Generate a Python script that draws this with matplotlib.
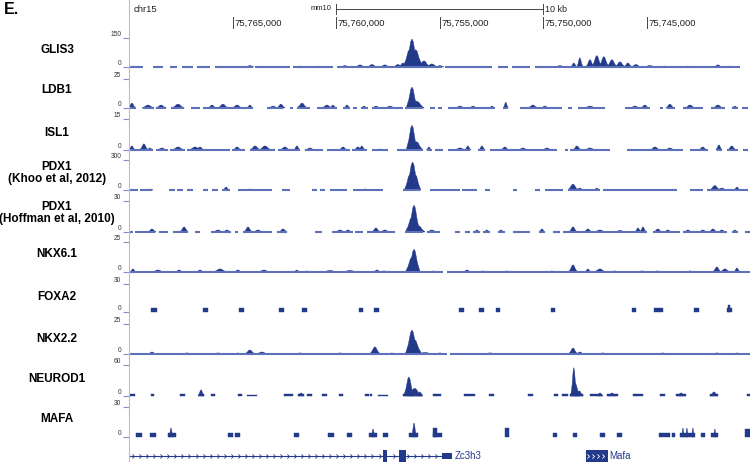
import numpy as np
import matplotlib
matplotlib.use('Agg')
import matplotlib.pyplot as plt
from matplotlib.lines import Line2D

plt.rcParams['font.family'] = ['Liberation Sans', 'DejaVu Sans']

# genome positions are in kb on chr15 (mm10); plotted right-to-left
track_names = ['GLIS3', 'LDB1', 'ISL1', 'PDX1\n(Khoo et al, 2012)',
               'PDX1\n(Hoffman et al, 2010)', 'NKX6.1', 'FOXA2', 'NKX2.2',
               'NEUROD1', 'MAFA']
track_max = [150, 25, 15, 300, 30, 25, 30, 25, 60, 30]
tick_kb = [75765, 75760, 75755, 75750, 75745, 75740]
scale_bar_kb = (75760, 75750)

# covered regions (start, end), peaks (center, value, half width), blocks (start, end, value)
glis3_cover = [(75770.00, 75769.32), (75768.84, 75768.36), (75768.02, 75767.68), (75767.44, 75766.91),
               (75766.72, 75766.09), (75765.85, 75764.01), (75763.91, 75762.22), (75762.08, 75760.15),
               (75759.95, 75754.88), (75754.74, 75752.47), (75752.18, 75751.69), (75751.50, 75750.63),
               (75750.39, 75740.49)]
glis3_peaks = [(75769.76, 5, 0.15), (75764.16, 8, 0.2), (75763.58, 5, 0.15), (75761.74, 5, 0.15),
               (75760.87, 5, 0.15), (75759.57, 8, 0.2), (75758.84, 11, 0.25), (75758.26, 13, 0.25),
               (75757.64, 11, 0.25), (75757.01, 13, 0.25), (75756.77, 21, 0.2),
               (75756.33, 145, 0.32), (75756.45, 90, 0.32), (75756.15, 90, 0.35),
               (75756.04, 45, 0.3), (75755.75, 32, 0.3), (75755.37, 16, 0.3), (75754.98, 8, 0.2),
               (75749.18, 8, 0.2), (75748.51, 21, 0.15), (75748.22, 48, 0.15), (75747.73, 38, 0.2),
               (75747.40, 59, 0.25), (75747.06, 54, 0.25), (75746.67, 38, 0.25), (75746.28, 27, 0.25),
               (75745.90, 21, 0.2), (75745.51, 13, 0.25), (75744.84, 8, 0.3), (75744.11, 5, 0.25),
               (75743.00, 5, 0.2), (75741.55, 11, 0.2), (75740.97, 5, 0.2)]

ldb1_cover = [(75770.00, 75769.66), (75769.32, 75768.79), (75768.70, 75768.21), (75767.97, 75767.34),
              (75767.01, 75766.57), (75766.43, 75764.01), (75763.33, 75762.56), (75762.22, 75762.08),
              (75761.89, 75761.26), (75760.92, 75759.95), (75759.66, 75759.33), (75759.18, 75758.99),
              (75758.79, 75758.46), (75758.26, 75756.77), (75756.67, 75755.80), (75755.46, 75755.22),
              (75755.08, 75754.88), (75754.59, 75752.32), (75751.94, 75751.69), (75751.11, 75749.09),
              (75748.80, 75748.60), (75748.31, 75747.01), (75746.04, 75744.84), (75744.35, 75744.21),
              (75744.01, 75743.63), (75743.24, 75742.28), (75741.89, 75741.21), (75740.88, 75740.59),
              (75740.39, 75740.10)]
ldb1_peaks = [(75769.86, 4.3, 0.18), (75769.08, 2.6, 0.3), (75768.45, 2.6, 0.25), (75767.63, 3.4, 0.3),
              (75765.99, 2.6, 0.2), (75765.46, 3.4, 0.25), (75764.78, 2.6, 0.25), (75764.16, 2.6, 0.15),
              (75763.04, 1.7, 0.25), (75762.66, 3.4, 0.2), (75761.64, 4.3, 0.25), (75760.44, 2.6, 0.25),
              (75760.15, 2.6, 0.15), (75759.47, 2.6, 0.15), (75758.65, 1.7, 0.15), (75758.07, 1.7, 0.2),
              (75757.39, 1.7, 0.25), (75756.33, 18, 0.28), (75756.10, 6, 0.3), (75756.04, 5, 0.3),
              (75754.01, 1.7, 0.25), (75753.38, 1.7, 0.2), (75752.47, 1.7, 0.15), (75751.80, 5, 0.12),
              (75750.49, 2.6, 0.25), (75749.91, 1.7, 0.2), (75747.73, 1.7, 0.3), (75745.56, 1.7, 0.25),
              (75745.08, 2.6, 0.2), (75743.87, 3.4, 0.2), (75742.90, 2.6, 0.25), (75741.55, 2.6, 0.25),
              (75740.73, 1.7, 0.15)]

isl1_cover = [(75770.00, 75768.84), (75768.70, 75768.12), (75768.02, 75767.30), (75767.20, 75765.12),
              (75765.03, 75764.40), (75764.16, 75762.95), (75762.80, 75761.74), (75761.50, 75760.63),
              (75760.44, 75759.33), (75759.23, 75758.50), (75758.26, 75757.49), (75757.06, 75755.80),
              (75755.61, 75755.37), (75755.22, 75754.83), (75754.59, 75753.53), (75753.14, 75752.81),
              (75752.56, 75749.33), (75748.94, 75748.80), (75748.70, 75746.77), (75745.95, 75743.24),
              (75742.90, 75742.03), (75741.60, 75741.36), (75741.12, 75740.59), (75740.34, 75740.10)]
isl1_peaks = [(75769.86, 2, 0.15), (75769.28, 3, 0.2), (75768.99, 1, 0.15), (75768.41, 1, 0.25),
              (75767.63, 1.5, 0.3), (75766.81, 1.5, 0.3), (75766.57, 1.5, 0.2), (75764.78, 1.5, 0.2),
              (75763.91, 2, 0.25), (75763.43, 2, 0.3), (75762.47, 1.5, 0.25), (75761.89, 2, 0.15),
              (75761.26, 1, 0.25), (75759.66, 1.5, 0.2), (75758.94, 1.5, 0.2), (75758.75, 2, 0.15),
              (75757.88, 0.5, 0.2), (75756.33, 12, 0.28), (75756.10, 4, 0.3), (75756.04, 1.5, 0.25),
              (75755.51, 1.5, 0.12), (75754.01, 1, 0.3), (75753.63, 2, 0.15), (75752.95, 2, 0.15),
              (75751.84, 1.5, 0.2), (75750.97, 1, 0.25), (75749.81, 1, 0.25), (75748.36, 2, 0.2),
              (75747.73, 1, 0.3), (75744.59, 1.5, 0.25), (75743.87, 1, 0.25), (75742.28, 1.5, 0.2),
              (75741.50, 2.5, 0.15), (75740.88, 2, 0.2)]

khoo_cover = [(75769.95, 75769.57), (75769.47, 75768.89), (75768.07, 75767.78), (75767.68, 75767.39),
              (75767.20, 75766.91), (75766.43, 75766.18), (75765.99, 75765.70), (75765.51, 75765.12),
              (75764.74, 75763.09), (75762.61, 75762.22), (75761.16, 75760.92), (75760.77, 75760.53),
              (75760.29, 75759.47), (75759.18, 75757.73), (75756.77, 75755.94), (75755.46, 75754.01),
              (75753.92, 75753.19), (75752.81, 75752.56), (75751.45, 75751.26), (75750.39, 75750.15),
              (75749.91, 75749.04), (75748.80, 75747.25), (75747.11, 75743.53), (75742.90, 75742.28),
              (75742.08, 75740.10)]
khoo_peaks = [(75768.99, 10, 0.15), (75765.31, 30, 0.15), (75764.16, 10, 0.25), (75758.60, 10, 0.25),
              (75756.30, 280, 0.32), (75756.45, 150, 0.25), (75756.15, 150, 0.25),
              (75748.55, 60, 0.25), (75748.22, 20, 0.2), (75747.40, 20, 0.15),
              (75741.70, 45, 0.25), (75741.36, 20, 0.25), (75740.63, 30, 0.15)]

hoffman_cover = [(75770.00, 75769.81), (75769.71, 75768.74), (75768.55, 75768.12), (75767.87, 75767.15),
                 (75766.81, 75766.57), (75766.04, 75765.07), (75764.88, 75764.74), (75764.49, 75763.09),
                 (75762.85, 75762.37), (75761.02, 75760.68), (75760.20, 75759.18), (75759.08, 75758.70),
                 (75758.50, 75757.15), (75756.67, 75755.80), (75755.61, 75754.98), (75754.25, 75754.01),
                 (75753.77, 75753.53), (75753.38, 75753.05), (75752.90, 75752.56), (75752.18, 75751.84),
                 (75751.45, 75750.63), (75750.20, 75749.91), (75749.52, 75749.18), (75749.04, 75744.98),
                 (75744.69, 75743.39), (75743.24, 75741.12), (75740.88, 75740.59), (75740.25, 75740.00)]
hoffman_peaks = [(75768.89, 3, 0.2), (75767.34, 5, 0.2), (75765.70, 2, 0.25), (75765.27, 2, 0.2),
                 (75764.25, 5, 0.2), (75763.77, 2, 0.25), (75762.56, 3, 0.2), (75759.81, 2, 0.25),
                 (75759.42, 2, 0.2), (75758.07, 4, 0.2), (75757.64, 2, 0.25),
                 (75756.23, 26, 0.3), (75756.35, 14, 0.3), (75756.00, 6, 0.3),
                 (75755.37, 2, 0.25), (75753.19, 2, 0.15), (75752.71, 2, 0.15), (75752.03, 2, 0.15),
                 (75750.05, 3, 0.15), (75748.55, 5, 0.2), (75747.83, 3, 0.2), (75747.25, 2, 0.3),
                 (75746.28, 1.5, 0.3), (75745.41, 4, 0.15), (75745.17, 5, 0.15), (75744.45, 3, 0.2),
                 (75743.97, 2, 0.2), (75743.00, 2, 0.2), (75742.28, 2, 0.2), (75741.79, 3, 0.2),
                 (75741.36, 2, 0.2), (75740.73, 2, 0.15)]

nkx61_cover = [(75770.00, 75754.83), (75754.64, 75740.00)]
nkx61_peaks = [(75769.81, 2.6, 0.15), (75768.60, 1.7, 0.3), (75767.58, 1.7, 0.2), (75766.57, 1.7, 0.2),
               (75765.60, 2.6, 0.35), (75764.74, 1.7, 0.2), (75763.48, 1.7, 0.3), (75761.89, 1.7, 0.15),
               (75761.40, 0.9, 0.15), (75760.29, 1.3, 0.4), (75759.33, 1.3, 0.4), (75758.02, 1.7, 0.2),
               (75757.68, 0.9, 0.25), (75756.23, 19, 0.3), (75756.35, 12, 0.3), (75755.32, 0.9, 0.15),
               (75753.67, 1.7, 0.2), (75752.90, 0.9, 0.2), (75751.74, 0.9, 0.2), (75749.57, 0.9, 0.2),
               (75748.55, 6, 0.22), (75747.83, 2.6, 0.15), (75747.25, 2.6, 0.3), (75746.53, 0.9, 0.2),
               (75745.22, 0.9, 0.3), (75744.50, 0.9, 0.2), (75742.90, 0.9, 0.2), (75741.60, 4.3, 0.2),
               (75741.21, 2.6, 0.25), (75740.63, 3.4, 0.15)]

foxa2_blocks = [(75768.94, 75768.65, 4.3), (75766.43, 75766.18, 4.3), (75764.69, 75764.45, 4.3),
                (75762.75, 75762.51, 4.3), (75761.64, 75761.40, 4.3), (75758.89, 75758.70, 4.3),
                (75758.17, 75757.92, 4.3), (75754.06, 75753.82, 4.3), (75753.09, 75752.85, 4.3),
                (75752.27, 75752.08, 4.3), (75749.62, 75749.42, 4.3), (75745.71, 75745.51, 4.3),
                (75744.64, 75744.21, 4.3), (75742.71, 75742.47, 4.3), (75741.12, 75740.88, 4.3),
                (75741.05, 75740.95, 7.5)]

nkx22_cover = [(75770.00, 75754.64), (75754.50, 75740.00)]
nkx22_peaks = [(75768.89, 1.7, 0.2), (75767.20, 0.9, 0.3), (75765.70, 0.9, 0.3), (75764.74, 0.9, 0.15),
               (75764.16, 3.4, 0.25), (75763.58, 1.7, 0.3), (75761.74, 0.9, 0.25), (75759.81, 0.9, 0.25),
               (75758.12, 6, 0.25), (75757.30, 0.9, 0.15), (75756.33, 20, 0.32), (75756.20, 12, 0.35),
               (75755.70, 1.3, 0.4), (75754.98, 0.9, 0.25), (75752.56, 0.9, 0.4), (75748.55, 5, 0.22),
               (75748.22, 1.7, 0.2), (75747.11, 0.9, 0.25), (75744.21, 0.9, 0.25), (75741.60, 0.9, 0.25),
               (75740.63, 0.9, 0.2)]

neurod1_blocks = [(75769.95, 75769.71, 3.5), (75768.94, 75768.79, 3), (75767.54, 75767.30, 3),
                  (75766.62, 75766.38, 3.5), (75766.04, 75765.85, 4), (75764.74, 75764.54, 4),
                  (75764.30, 75763.82, 2.5), (75762.51, 75762.08, 4), (75761.84, 75761.55, 4),
                  (75761.40, 75761.16, 4), (75760.68, 75760.44, 4), (75759.86, 75759.66, 4),
                  (75758.60, 75758.41, 4), (75758.36, 75758.26, 3), (75757.97, 75757.49, 2.5),
                  (75756.77, 75755.85, 4), (75755.32, 75754.93, 3), (75753.82, 75753.29, 4),
                  (75752.61, 75752.37, 3), (75750.73, 75750.49, 3), (75749.47, 75749.28, 3),
                  (75749.09, 75748.80, 3), (75748.70, 75748.07, 4), (75747.73, 75747.16, 4),
                  (75746.91, 75746.38, 4), (75745.66, 75745.17, 4), (75744.35, 75744.11, 4),
                  (75743.58, 75743.10, 4), (75741.94, 75741.55, 4), (75740.15, 75740.00, 3)]
neurod1_peaks = [(75766.52, 12, 0.15), (75761.69, 6, 0.15), (75756.48, 37, 0.25), (75756.20, 15, 0.35),
                 (75755.95, 8, 0.15), (75748.51, 55, 0.15), (75748.45, 25, 0.25), (75748.25, 10, 0.2),
                 (75747.25, 6, 0.15), (75746.67, 6, 0.2), (75743.33, 6, 0.2), (75741.74, 8, 0.2)]

mafa_blocks = [(75769.66, 75769.37, 4), (75768.99, 75768.70, 4), (75768.12, 75767.73, 4),
               (75765.22, 75764.98, 4), (75764.88, 75764.64, 4), (75762.03, 75761.79, 4),
               (75760.39, 75760.10, 4), (75759.47, 75759.23, 4), (75758.41, 75758.02, 4),
               (75757.73, 75757.49, 4), (75756.48, 75756.04, 4), (75755.32, 75754.88, 4),
               (75755.32, 75755.13, 9), (75751.84, 75751.65, 9), (75749.52, 75749.33, 4),
               (75748.55, 75748.36, 4), (75747.25, 75747.01, 4), (75746.43, 75746.19, 4),
               (75744.40, 75743.87, 4), (75743.77, 75743.63, 4), (75743.39, 75742.66, 4),
               (75742.37, 75742.18, 4), (75741.89, 75741.55, 4), (75740.25, 75740.00, 8)]
mafa_peaks = [(75767.97, 9, 0.1), (75758.21, 8, 0.1), (75756.23, 14, 0.12), (75743.24, 9, 0.07),
              (75743.05, 9, 0.07), (75742.76, 9, 0.07), (75741.70, 8, 0.07)]

zc3h3_span = (75770.00, 75754.88)
zc3h3_exons = [(75757.73, 75757.54), (75756.96, 75756.62)]
zc3h3_utr = [(75754.88, 75754.40)]
mafa_gene = (75747.93, 75746.86)

tracks = [
    (glis3_cover, glis3_peaks, []),
    (ldb1_cover, ldb1_peaks, []),
    (isl1_cover, isl1_peaks, []),
    (khoo_cover, khoo_peaks, []),
    (hoffman_cover, hoffman_peaks, []),
    (nkx61_cover, nkx61_peaks, []),
    ([], [], foxa2_blocks),
    (nkx22_cover, nkx22_peaks, []),
    ([], neurod1_peaks, neurod1_blocks),
    ([], mafa_peaks, mafa_blocks),
]

FILL = '#233a8b'
LINE = '#5d70ba'
W, H = 750, 462
X0, X1 = 129, 750
XLIM = (75770, 75740)

tops = [38, 79, 119, 160, 201, 242, 284, 324, 365, 407]
bases = [67, 108, 150, 190, 232, 272, 312, 354, 396, 437]
label_y = [50, 90, 133, 173, 213, 254, 297, 339, 379, 419]

# bell-ish outline used for every peak (fractions of half width / height)
bell_dx = [1, 0.55, 0.2, 0, -0.2, -0.55, -1]
bell_dy = [0, 0.4, 0.9, 1, 0.9, 0.4, 0]

fig = plt.figure(figsize=(W / 100, H / 100), dpi=100)


def px_axes(x0, y0, x1, y1):
    return fig.add_axes([x0 / W, 1 - y1 / H, (x1 - x0) / W, (y1 - y0) / H])


for i, (cover, peaks, blocks) in enumerate(tracks):
    ymax = track_max[i]
    pad = 3
    ax = px_axes(X0, tops[i], X1, bases[i] + pad)
    ax.set_xlim(*XLIM)
    ax.set_ylim(-ymax * pad / (bases[i] - tops[i]), ymax)
    for a, b in cover:
        ax.plot([a, b], [0, 0], color=LINE, lw=1.5, solid_capstyle='butt')
    for a, b, v in blocks:
        ax.fill([a, a, b, b], [0, v, v, 0], color=FILL, lw=0.3)
    for c, v, w in peaks:
        ax.fill([c + w * f for f in bell_dx], [v * f for f in bell_dy], color=FILL, lw=0.3)
    ax.set_xticks([])
    ax.set_yticks([0, ymax])
    ax.set_yticklabels(['0', str(ymax)], fontsize=4.8, color='#333333')
    for t in ax.get_yticklabels():
        t.set_va('bottom')
    ax.tick_params(axis='y', length=4, width=0.8, color='#8090c8', pad=1.5)
    for s in ax.spines.values():
        s.set_visible(False)
    ax.patch.set_alpha(0)
    fig.text(57 / W, 1 - label_y[i] / H, track_names[i], ha='center', va='center',
             fontsize=8.5, fontweight='bold', linespacing=1.1)

# gene annotation
gx = px_axes(X0, 449, X1, 463)
gx.set_xlim(*XLIM)
gx.set_ylim(-1, 1)
gx.axis('off')
gx.plot(zc3h3_span, [0, 0], color=FILL, lw=0.8)
chev = [(-1, 1), (0, 0), (-1, -1)]
intron_x = [x for x in np.arange(zc3h3_span[0] - 0.25, zc3h3_span[1], -0.34)
            if not any(b - 0.1 < x < a + 0.1 for a, b in zc3h3_exons)]
gx.plot(intron_x, np.zeros(len(intron_x)), ls='none', marker=chev, ms=3,
        mec=FILL, mfc='none', mew=0.6)
for a, b in zc3h3_exons:
    gx.fill([a, a, b, b], [-0.85, 0.85, 0.85, -0.85], color=FILL, lw=0)
for a, b in zc3h3_utr:
    gx.fill([a, a, b, b], [-0.45, 0.45, 0.45, -0.45], color=FILL, lw=0)
gx.text(zc3h3_utr[0][1] - 0.12, 0, 'Zc3h3', fontsize=7, color=FILL, va='center', ha='left')
a, b = mafa_gene
gx.fill([a, a, b, b], [-0.85, 0.85, 0.85, -0.85], color=FILL, lw=0)
inner = np.linspace(a - 0.15, b + 0.2, 4)
gx.plot(inner, np.zeros(4), ls='none', marker=chev, ms=3, mec='white', mfc='none', mew=0.6)
gx.text(b - 0.08, 0, 'Mafa', fontsize=7, color=FILL, va='center', ha='left')

# header: chromosome, scale bar, coordinates
hx = px_axes(X0, 0, X1, 32)
hx.set_xlim(*XLIM)
hx.set_ylim(32, 0)
hx.axis('off')
hx.text(75769.8, 9, 'chr15', fontsize=6.8, va='center', ha='left', color='#222222')
hx.plot(scale_bar_kb, [9, 9], color='#444444', lw=0.7)
for s in scale_bar_kb:
    hx.plot([s, s], [4, 14], color='#444444', lw=0.7)
hx.text(scale_bar_kb[0] + 0.2, 9, 'mm10', fontsize=5.5, va='center', ha='right', color='#222222')
hx.text(scale_bar_kb[1] - 0.12, 9, '10 kb', fontsize=6.5, va='center', ha='left', color='#222222')
for t in tick_kb:
    hx.plot([t, t], [17, 28], color='#444444', lw=0.7, clip_on=False)
    if t > XLIM[1]:
        hx.text(t - 0.08, 23, f'{int(t * 1000):,}', fontsize=6.8, va='center', ha='left',
                color='#222222')

fig.text(4 / W, 1 - 9 / H, 'E.', fontsize=11.5, fontweight='bold', va='center', ha='left')
fig.add_artist(Line2D([128.5 / W, 128.5 / W], [0, 1], color='#f2a7b0', lw=0.8, zorder=10))

fig.savefig('out.png', dpi=100)
